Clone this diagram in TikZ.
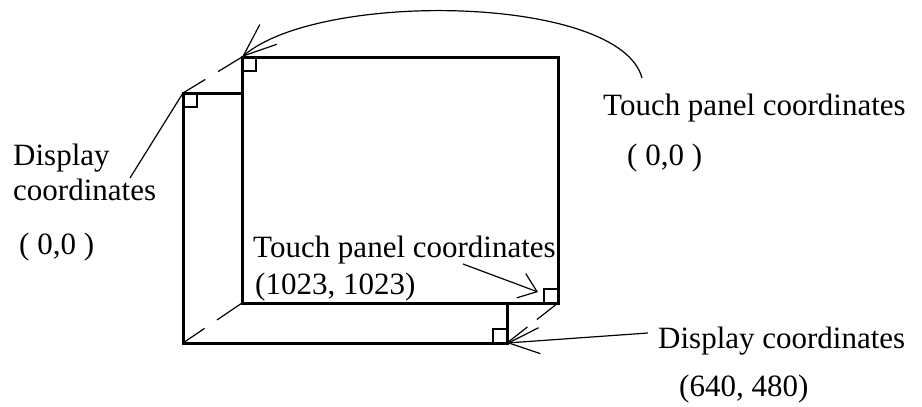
\documentclass[tikz,border=0pt]{standalone}
\usepackage{fontspec}
\setmainfont{Liberation Serif}
\usetikzlibrary{arrows.meta}

\begin{document}
\begin{tikzpicture}[x=1pt, y=-1pt,
    frame/.style={line width=3pt},
    corner/.style={line width=1.2pt},
    leader/.style={line width=1.2pt},
    label/.style={anchor=base west, inner sep=0pt, font=\fontsize{31}{36}\selectfont},
    barb/.style={-{Straight Barb[length=#1, width=26pt, line width=1.2pt]}},
  ]
        % \draw[help lines, gray!50, very thin] (0,0) grid[step=50] (922,407);
        \useasboundingbox (0,0) rectangle (922,407);

        % corners of the two screens
        \coordinate (dTL) at (183,93);
        \coordinate (dBL) at (183,343);
        \coordinate (dBR) at (507,343);
        \coordinate (tTL) at (242,57);
        \coordinate (tBL) at (242,303);
        \coordinate (tBR) at (558,303);

        % display (behind)
        \draw[frame] (dTL) rectangle (dBR);

        % depth lines
        \draw[leader, dash pattern=on 26pt off 15pt on 40pt] (dTL) -- (tTL);
        \draw[leader, dash pattern=on 26pt off 15pt on 40pt] (dBL) -- (tBL);
        \draw[leader, dash pattern=on 26pt off 12pt on 40pt] (dBR) -- (tBR);

        % touch panel (front)
        \draw[frame, fill=white] (tTL) rectangle (tBR);

        % little corner marks
        \draw[corner] (dTL) rectangle ++(14,14);
        \draw[corner] (tTL) rectangle ++(14,14);
        \draw[corner] (tBR) rectangle ++(-14,-14);
        \draw[corner] (dBR) rectangle ++(-14,-14);

        % labels
        \node[label] (tpZeroA) at (603,115) {Touch panel coordinates};
        \node[label] (tpZeroB) at (627,165) {( 0,0 )};
        \node[label] (dZeroA) at (13,165) {Display};
        \node[label] (dZeroB) at (13,200) {coordinates};
        \node[label] (dZeroC) at (19,254) {( 0,0 )};
        \node[label] (tpMaxA) at (253,257) {Touch panel coordinates};
        \node[label] (tpMaxB) at (255,294) {(1023, 1023)};
        \node[label] (dMaxA) at (658,348) {Display coordinates};
        \node[label] (dMaxB) at (679,396) {(640, 480)};

        % leader ends
        \coordinate (arcStart) at (642,78);
        \coordinate (dZeroEnd) at (130,178);
        \coordinate (tpMaxEnd) at (463,264);
        \coordinate (tpMaxTip) at (538,292);
        \coordinate (dMaxEnd) at (648,333);

        \draw[leader, barb=33pt] (arcStart) .. controls (620,-5) and (320,-10) .. (tTL);
        \draw[leader] (dZeroEnd) -- (dTL);
        \draw[leader, barb=17pt] (tpMaxEnd) -- (tpMaxTip);
        \draw[leader, barb=31pt] (dMaxEnd) -- (dBR);
      \end{tikzpicture}
\end{document}
